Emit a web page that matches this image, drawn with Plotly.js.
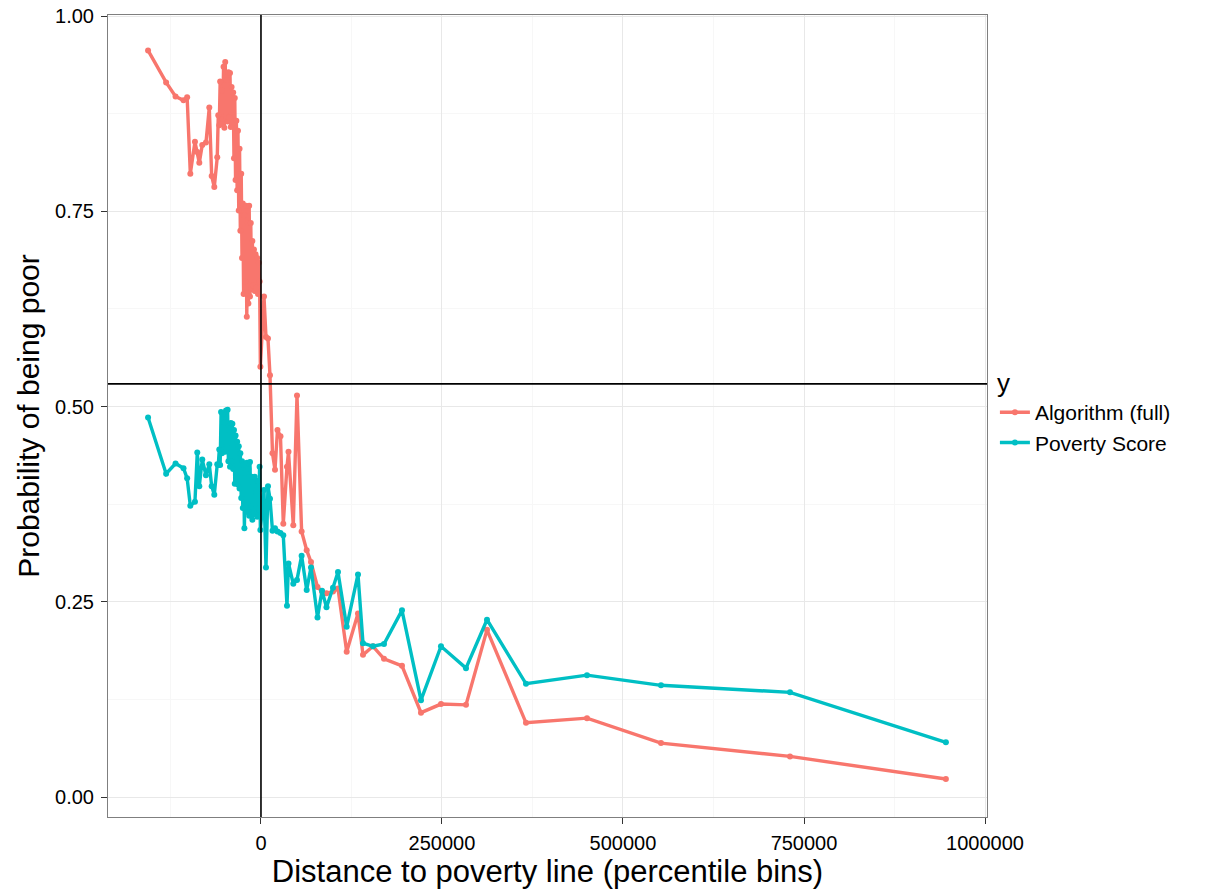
<!DOCTYPE html>
<html>
<head>
<meta charset="utf-8">
<script src="https://cdn.plot.ly/plotly-3.0.1.min.js"></script>
<style>html,body{margin:0;padding:0;background:#fff;}#chart{width:1207px;height:894px;}</style>
</head>
<body>
<div id="chart"></div>
<script>
// Distance to poverty line (bin centres), shared by both series
const distance = [
  -156000, -131000, -118000, -107000, -102000, -97600, -91200, -88000, -85200, -81100,
  -76000, -71400, -68100, -64500, -60400,
  -59000, -57600, -56400, -55100, -53900, -52800, -51700, -50600, -49400, -48300,
  -47200, -46100, -45000, -43900, -42800, -41700, -40600, -39500, -38400, -37300,
  -36200, -35100, -34000, -32900, -31800, -30700, -29600, -28500, -27300, -26200,
  -25100, -24000, -22900, -21800, -20700, -19600, -18500, -17400, -16300, -15200,
  -14100, -13000, -11900, -10800, -9700, -8600, -7500, -6400, -5200, -4100,
  -3000, -1900,
  -830, 4144, 6906, 9668, 12431, 15884, 19337, 22790, 26933, 30801,
  35911, 37983, 44613, 49723, 56128, 63121, 69060, 78038, 84253, 90469,
  99447, 106353, 118369, 133976, 140882, 154694, 169888, 194749, 220992, 248616,
  283146, 312151, 366018, 450271, 552480, 730655, 946000
];

const algorithmFull = [
  0.956, 0.915, 0.897, 0.892, 0.896, 0.798, 0.839, 0.826, 0.812, 0.835,
  0.838, 0.883, 0.795, 0.781, 0.819,
  0.873, 0.860, 0.916, 0.862, 0.905, 0.868, 0.935, 0.857, 0.941, 0.872,
  0.918, 0.865, 0.928, 0.870, 0.927, 0.858, 0.909, 0.862, 0.902, 0.818,
  0.895, 0.790, 0.866, 0.777, 0.853, 0.751, 0.830, 0.725, 0.798, 0.690,
  0.760, 0.644, 0.745, 0.660, 0.757, 0.615, 0.735, 0.632, 0.757, 0.641,
  0.735, 0.650, 0.712, 0.655, 0.701, 0.648, 0.695, 0.652, 0.690, 0.644,
  0.684, 0.660,
  0.551, 0.641, 0.589, 0.587, 0.540, 0.440, 0.419, 0.470, 0.462, 0.350,
  0.423, 0.442, 0.348, 0.514, 0.340, 0.316, 0.301, 0.269, 0.263, 0.261,
  0.263, 0.267, 0.186, 0.235, 0.182, 0.193, 0.177, 0.168, 0.108, 0.119,
  0.118, 0.214, 0.095, 0.101, 0.069, 0.052, 0.023
];

const povertyScore = [
  0.486, 0.414, 0.427, 0.421, 0.408, 0.373, 0.378, 0.441, 0.398, 0.432,
  0.412, 0.426, 0.398, 0.387, 0.426,
  0.425, 0.445, 0.425, 0.493, 0.440, 0.490, 0.445, 0.480, 0.442, 0.495,
  0.450, 0.496, 0.430, 0.470, 0.423, 0.479, 0.430, 0.478, 0.420, 0.470,
  0.401, 0.463, 0.410, 0.455, 0.400, 0.449, 0.395, 0.440, 0.383, 0.430,
  0.370, 0.425, 0.344, 0.415, 0.365, 0.428, 0.370, 0.420, 0.360, 0.429,
  0.372, 0.410, 0.355, 0.400, 0.365, 0.410, 0.362, 0.390, 0.359, 0.405,
  0.370, 0.423,
  0.342, 0.393, 0.294, 0.398, 0.382, 0.341, 0.344, 0.340, 0.338, 0.335,
  0.245, 0.299, 0.273, 0.278, 0.309, 0.265, 0.294, 0.230, 0.264, 0.243,
  0.268, 0.288, 0.218, 0.285, 0.197, 0.193, 0.196, 0.239, 0.124, 0.193,
  0.165, 0.227, 0.145, 0.156, 0.143, 0.134, 0.070
];

const seriesNames = ["Algorithm (full)", "Poverty Score"];
const seriesColors = ["#F8766D", "#00BFC4"];
const xTickVals = [0, 250000, 500000, 750000, 1000000];
const xTickText = ["0", "250000", "500000", "750000", "1000000"];
const yTickVals = [0, 0.25, 0.5, 0.75, 1];
const yTickText = ["0.00", "0.25", "0.50", "0.75", "1.00"];
const povertyLineX = 0;
const thresholdY = 0.529;

const FONT = "Liberation Sans, Arial, Helvetica, sans-serif";

function makeTrace(y, i) {
  return {
    x: distance, y: y, name: seriesNames[i], type: "scatter", mode: "lines+markers",
    line: {color: seriesColors[i], width: 3.4},
    marker: {color: seriesColors[i], size: 6}
  };
}

const data = [makeTrace(algorithmFull, 0), makeTrace(povertyScore, 1)];

const axisCommon = {
  showline: true, mirror: true, linecolor: "#7f7f7f", linewidth: 1,
  ticks: "outside", ticklen: 6, tickcolor: "#333333", tickwidth: 1,
  showgrid: true, gridcolor: "#e8e8e8", gridwidth: 1,
  zeroline: false,
  tickfont: {family: FONT, size: 20, color: "#000"}
};

const layout = {
  width: 1207, height: 894,
  margin: {l: 108, r: 220, t: 15, b: 77},
  paper_bgcolor: "#fff", plot_bgcolor: "#fff",
  font: {family: FONT, color: "#000"},
  showlegend: true,
  legend: {
    x: 1.009, y: 0.572, xanchor: "left", yanchor: "top",
    title: {text: "y", font: {family: FONT, size: 26, color: "#000"}},
    font: {family: FONT, size: 21, color: "#000"},
    tracegroupgap: 0, itemwidth: 30, bgcolor: "rgba(0,0,0,0)"
  },
  xaxis: Object.assign({}, axisCommon, {
    range: [-211300, 1002760],
    tickmode: "array", tickvals: xTickVals, ticktext: xTickText,
    ticklabelstandoff: 2,
    minor: {dtick: 125000, tick0: 0, showgrid: true, gridcolor: "#f7f7f7", ticks: ""},
    title: {text: "Distance to poverty line (percentile bins)", font: {family: FONT, size: 31, color: "#000"}, standoff: 6}
  }),
  yaxis: Object.assign({}, axisCommon, {
    range: [-0.0256, 1.0013],
    tickmode: "array", tickvals: yTickVals, ticktext: yTickText,
    ticklabelstandoff: 3,
    minor: {dtick: 0.125, tick0: 0, showgrid: true, gridcolor: "#f7f7f7", ticks: ""},
    title: {text: "Probability of being poor", font: {family: FONT, size: 30, color: "#000"}, standoff: 6}
  }),
  shapes: [
    {type: "line", xref: "x", yref: "paper", x0: povertyLineX, x1: povertyLineX, y0: 0, y1: 1,
     line: {color: "#000", width: 1.6}, layer: "above"},
    {type: "line", xref: "paper", yref: "y", x0: 0, x1: 1, y0: thresholdY, y1: thresholdY,
     line: {color: "#000", width: 1.6}, layer: "above"}
  ]
};

Plotly.newPlot("chart", data, layout, {displayModeBar: false, staticPlot: true});
</script>
</body>
</html>
